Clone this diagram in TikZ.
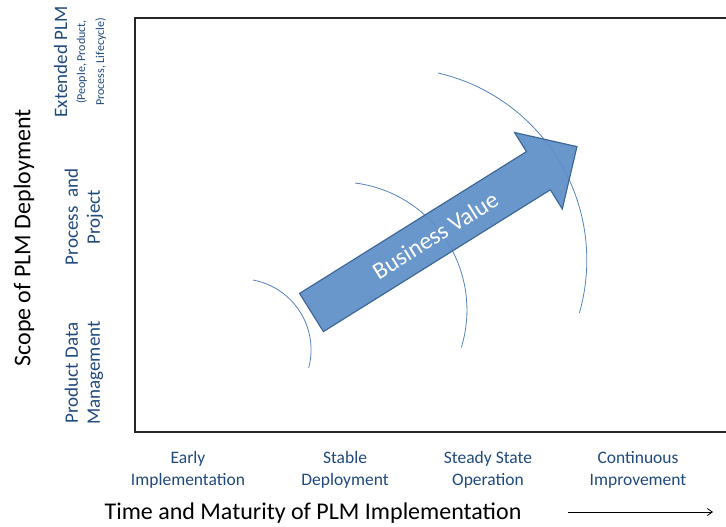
\documentclass[tikz,border=0pt]{standalone}
\usepackage{fontspec}
\setmainfont{Carlito}
\usepackage{tikz}
\usetikzlibrary{arrows.meta}

\definecolor{labelblue}{RGB}{31,73,125}
\definecolor{arrowfill}{RGB}{95,143,199}
\definecolor{arrowedge}{RGB}{62,104,152}
\definecolor{arcblue}{RGB}{84,130,186}

\tikzset{
  ylabel/.style = {rotate = 90, align = center, text = labelblue, font = \fontsize{19}{22}\selectfont},
  xlabel/.style = {align = center, text = labelblue, font = \fontsize{17.5}{22}\selectfont},
  axistitle/.style = {font = \fontsize{24}{28}\selectfont},
  ring/.style = {draw = arcblue, line width = 0.8pt}
}

\begin{document}
\begin{tikzpicture}[x = 1pt, y = -1pt]
        \useasboundingbox (0,0) rectangle (726,527);
        
        % frame, open on the right
        \draw [line width = 2.5pt, black!85] (740,18) -- (135,18) -- (135,432) -- (740,432);
        
        % rings
        \draw [ring] (253,280) arc[start angle = 79.5, end angle = -14.8, radius = 71pt];
        \draw [ring] (355,183) arc[start angle = 82.8, end angle = -17, radius = 128pt];
        \draw [ring] (438,73) arc[start angle = 77, end angle = -16, radius = 192pt];
        
        % business value arrow
        \begin{scope}[shift = {(311.5,312.5)}, rotate = 32]
            \draw [fill = arrowfill, draw = arrowedge, line width = 1.2pt, fill opacity = 0.93, line join = miter]
                (0,-22.5) -- (267.6,-22.5) -- (267.6,-45) -- (313,0) -- (267.6,45) -- (267.6,22.5) -- (0,22.5) -- cycle;
            \node (value) [rotate = 32, text = white, font = \fontsize{24}{28}\selectfont] at (146,0) {Business Value};
        \end{scope}
        
        % scope axis
        \node (scope) [rotate = 90, axistitle] at (24,238) {Scope of PLM Deployment};
        \node (extended) [ylabel] at (80,62) {Extended PLM\\[-4pt]{\fontsize{12}{13}\selectfont (People, Product,}\\[-3pt]{\fontsize{12}{13}\selectfont Process, Lifecycle)}};
        \node (process) [ylabel] at (84,217) {Process\ \ and\\Project};
        \node (pdm) [ylabel] at (84,373) {Product Data\\Management};
        
        % maturity axis
        \node (early) [xlabel] at (188,470) {Early\\Implementation};
        \node (stable) [xlabel] at (345,470) {Stable\\Deployment};
        \node (steady) [xlabel] at (488,470) {Steady State\\Operation};
        \node (continuous) [xlabel] at (638,470) {Continuous\\Improvement};
        
        \node (time) [axistitle] at (313,513) {Time and Maturity of PLM Implementation};
        \coordinate (tstart) at (568,512);
        \coordinate (tend) at (713,512);
        \draw [-{Straight Barb[length = 5pt, width = 7pt]}, line width = 0.8pt] (tstart) -- (tend);
\end{tikzpicture}
\end{document}
